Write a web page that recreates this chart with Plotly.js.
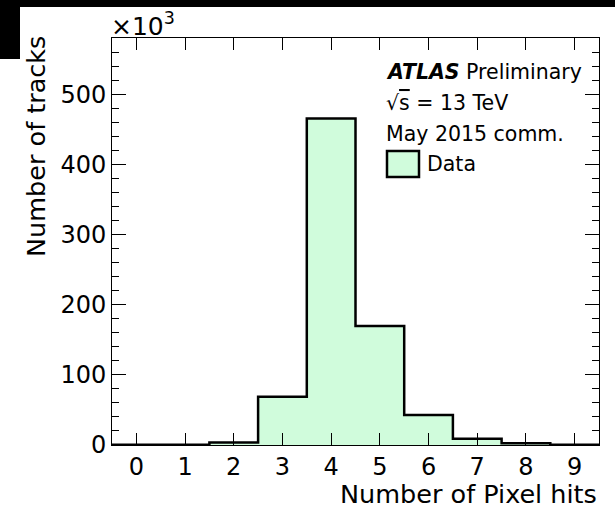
<!DOCTYPE html>
<html>
<head>
<meta charset="utf-8">
<script src="https://cdn.plot.ly/plotly-3.0.1.min.js"></script>
<style>
html,body{margin:0;padding:0;background:#fff;}
#wrap{position:relative;width:615px;height:516px;}
#chart{position:absolute;left:0;top:0;width:615px;height:516px;}
.blk{position:absolute;background:#000;}
</style>
</head>
<body>
<div id="wrap">
<div id="chart"></div>
<div class="blk" style="left:0;top:0;width:615px;height:7px;"></div>
<div class="blk" style="left:0;top:0;width:20px;height:59px;"></div>
</div>
<script>
// Number of pixel hits (bin centres) and number of tracks (in thousands)
const pixelHits = [0, 1, 2, 3, 4, 5, 6, 7, 8, 9];
const tracksK = [0.2, 0.3, 3.5, 69, 466, 170, 43, 9, 2.5, 0.5];
const xTickLabels = ['0','1','2','3','4','5','6','7','8','9'];

// build step outline from bins (edges at centre +/- 0.5)
const stepX = pixelHits.map(c => c - 0.5).concat([pixelHits[pixelHits.length-1] + 0.5]);
const stepY = tracksK.concat([tracksK[tracksK.length-1]]);

const fillColor = '#d0fcdc';
const FONT = 'DejaVu Sans, Liberation Sans, Arial, sans-serif';

const L = 112, R = 599, T = 38, B = 445;
const px = x => (x - L) / (R - L);
const py = y => (B - y) / (B - T);

const trace = {
  x: stepX, y: stepY, type: 'scatter', mode: 'lines',
  line: {shape: 'hv', color: '#000', width: 2.5},
  fill: 'tozeroy', fillcolor: fillColor,
  showlegend: false, hoverinfo: 'skip'
};

const layout = {
  width: 615, height: 516,
  margin: {l: L, r: 615 - R, t: T, b: 516 - B, pad: 0},
  paper_bgcolor: '#fff', plot_bgcolor: '#fff',
  showlegend: false,
  font: {family: FONT, color: '#000', size: 24},
  xaxis: {
    range: [-0.5, 9.5], tickmode: 'array', tickvals: pixelHits, ticktext: xTickLabels,
    ticks: 'inside', ticklen: 12, tickwidth: 1, tickcolor: '#000',
    showline: true, linecolor: '#000', linewidth: 1, mirror: 'ticks',
    showgrid: false, zeroline: false,
    tickfont: {family: FONT, size: 24, color: '#000'}
  },
  yaxis: {
    range: [0, 581], dtick: 100, tick0: 0,
    ticks: 'inside', ticklen: 14, tickwidth: 1, tickcolor: '#000',
    minor: {dtick: 20, ticks: 'inside', ticklen: 7, tickwidth: 1, tickcolor: '#000', showgrid: false},
    showline: true, linecolor: '#000', linewidth: 1, mirror: 'ticks',
    showgrid: false, zeroline: false,
    tickfont: {family: FONT, size: 24, color: '#000'}
  },
  shapes: [
    {type: 'rect', xref: 'paper', yref: 'paper',
     x0: px(387), x1: px(419), y0: py(177), y1: py(151),
     fillcolor: fillColor, line: {color: '#000', width: 2.5}}
  ],
  annotations: [
    {text: '×10<sup>3</sup>', xref: 'paper', yref: 'paper', x: px(109), y: py(24),
     xanchor: 'left', yanchor: 'middle', showarrow: false,
     font: {family: FONT, size: 25, color: '#000'}},
    {text: 'Number of tracks', xref: 'paper', yref: 'paper', x: px(36), y: py(147),
     xanchor: 'center', yanchor: 'middle', textangle: -90, showarrow: false,
     font: {family: FONT, size: 25.5, color: '#000'}},
    {text: 'Number of Pixel hits', xref: 'paper', yref: 'paper', x: 1, y: py(494),
     xanchor: 'right', yanchor: 'middle', showarrow: false,
     font: {family: FONT, size: 25.5, color: '#000'}},
    {text: '<b><i>ATLAS</i></b> Preliminary', xref: 'paper', yref: 'paper', x: px(384), y: py(71.5),
     xanchor: 'left', yanchor: 'middle', showarrow: false,
     font: {family: FONT, size: 20.5, color: '#000'}},
    {text: '√<span style="text-decoration:overline">s</span> = 13 TeV', xref: 'paper', yref: 'paper', x: px(384), y: py(103.5),
     xanchor: 'left', yanchor: 'middle', showarrow: false,
     font: {family: FONT, size: 20.5, color: '#000'}},
    {text: 'May 2015 comm.', xref: 'paper', yref: 'paper', x: px(384), y: py(134),
     xanchor: 'left', yanchor: 'middle', showarrow: false,
     font: {family: FONT, size: 20.5, color: '#000'}},
    {text: 'Data', xref: 'paper', yref: 'paper', x: px(425), y: py(164),
     xanchor: 'left', yanchor: 'middle', showarrow: false,
     font: {family: FONT, size: 20.5, color: '#000'}}
  ]
};

Plotly.newPlot('chart', [trace], layout, {displayModeBar: false, staticPlot: true});
</script>
</body>
</html>
